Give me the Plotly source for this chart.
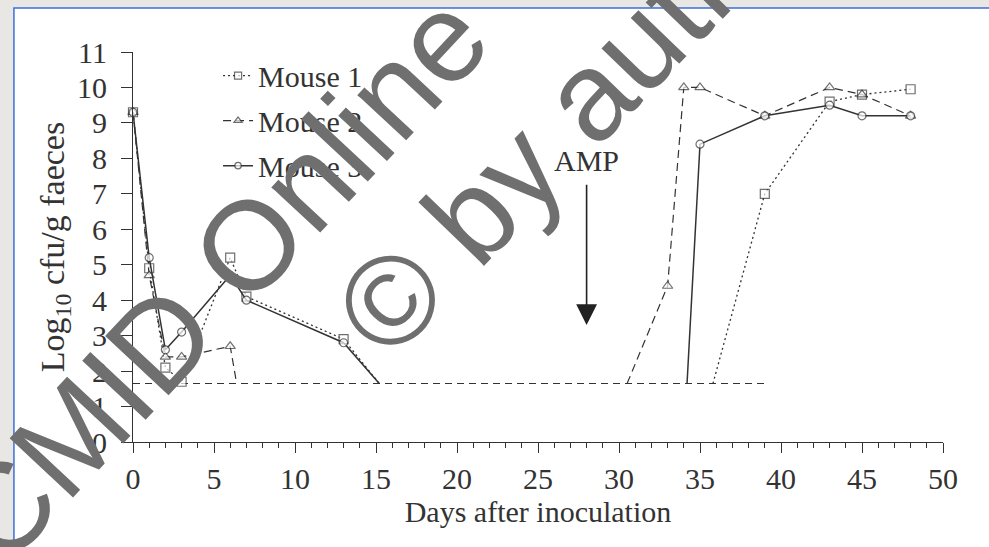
import plotly.graph_objects as go

# ---------------- data ----------------
LIMIT = 1.65  # detection limit (log10 cfu/g)

days_m1 = [0, 1, 2, 3, 6, 7, 13, 15.2, None, 35.8, 39, 43, 45, 48]
mouse1 = [9.3, 4.9, 2.1, 1.7, 5.2, 4.1, 2.9, 1.65, None, 1.65, 7.0, 9.6, 9.8, 9.95]

days_m2 = [0, 1, 2, 3, 6, 6.4, None, 30.5, 33, 34, 35, 39, 43, 45, 48]
mouse2 = [9.3, 4.7, 2.4, 2.4, 2.7, 1.65, None, 1.65, 4.4, 10.0, 10.0, 9.2, 10.0, 9.8, 9.2]

days_m3 = [0, 1, 2, 3, 6, 7, 13, 15.2, None, 34.2, 35, 39, 43, 45, 48]
mouse3 = [9.3, 5.2, 2.6, 3.1, 4.7, 4.0, 2.8, 1.65, None, 1.65, 8.4, 9.2, 9.5, 9.2, 9.2]

limit_days = [0, 39.1]
limit_vals = [LIMIT, LIMIT]

amp_day = 28
amp_from, amp_to = 7.3, 3.3
amp_label_y = 7.95

x_ticks = [0, 5, 10, 15, 20, 25, 30, 35, 40, 45, 50]
y_ticks = list(range(0, 12))

INK = "#333333"
SERIF = "Liberation Serif"
FS = 30


def sizes(vals, s):
    return [0 if (v is None or v == LIMIT) else s for v in vals]


fig = go.Figure()

fig.add_trace(go.Scatter(
    x=limit_days, y=limit_vals, mode="lines", showlegend=False,
    line=dict(color=INK, width=1.2, dash="7px,5px"), hoverinfo="skip"))

fig.add_trace(go.Scatter(
    x=days_m1, y=mouse1, mode="lines+markers", name="Mouse 1", legendgroup="1",
    line=dict(color=INK, width=1.3, dash="2px,3px"),
    marker=dict(symbol="square", size=sizes(mouse1, 9), color="white",
                line=dict(color=INK, width=1.2)),
    cliponaxis=False))

fig.add_trace(go.Scatter(
    x=days_m2, y=mouse2, mode="lines+markers", name="Mouse 2", legendgroup="2",
    line=dict(color=INK, width=1.2, dash="8px,5px"),
    marker=dict(symbol="triangle-up", size=sizes(mouse2, 9), color="white",
                line=dict(color=INK, width=1.2)),
    cliponaxis=False))

fig.add_trace(go.Scatter(
    x=days_m3, y=mouse3, mode="lines+markers", name="Mouse 3", legendgroup="3",
    line=dict(color=INK, width=1.5),
    marker=dict(symbol="circle", size=sizes(mouse3, 8), color="white",
                line=dict(color=INK, width=1.2)),
    cliponaxis=False))

# AMP arrow and label
fig.add_annotation(x=amp_day, y=amp_to, ax=amp_day, ay=amp_from, axref="x", ayref="y",
                   xref="x", yref="y", text="", showarrow=True,
                   arrowhead=2, arrowsize=2.6, arrowwidth=1.6, arrowcolor="#222")
fig.add_annotation(x=amp_day, y=amp_label_y, xref="x", yref="y", text="AMP", showarrow=False,
                   xanchor="center", yanchor="middle",
                   font=dict(family=SERIF, size=FS, color=INK))

# watermark (overlaid text of the source image)
fig.add_annotation(x=5.25, y=4.6, xref="x", yref="y", text="CMID Online",
                   showarrow=False, textangle=-47, xanchor="center", yanchor="middle",
                   font=dict(family="Liberation Sans", size=126, color="#6f6f6f"))
fig.add_annotation(x=27.9, y=9.7, xref="x", yref="y", text="© by author",
                   showarrow=False, textangle=-46, xanchor="center", yanchor="middle",
                   font=dict(family="Liberation Sans", size=126, color="#6f6f6f"))

# page frame
fig.add_shape(type="rect", xref="paper", yref="paper",
              x0=-0.147, x1=1.064, y0=-0.303, y1=1.113,
              fillcolor="white", line=dict(color="#3c6fd9", width=1.5), layer="below")

fig.update_layout(
    width=989, height=547,
    margin=dict(l=133, r=46, t=52, b=105, autoexpand=False),
    paper_bgcolor="#e9e7e3", plot_bgcolor="white",
    font=dict(family=SERIF, size=FS, color=INK),
    legend=dict(x=0.105, y=1.006, xanchor="left", yanchor="top",
                bgcolor="rgba(0,0,0,0)", font=dict(family=SERIF, size=FS, color=INK),
                tracegroupgap=3, traceorder="grouped"),
    xaxis=dict(range=[0, 50], tickmode="array", tickvals=x_ticks,
               ticks="outside", ticklen=10, tickwidth=1.2, tickcolor=INK,
               showline=True, linecolor=INK, linewidth=1.2,
               showgrid=False, zeroline=False,
               minor=dict(dtick=1, ticks="outside", ticklen=5, tickwidth=1, tickcolor=INK,
                          showgrid=False),
               tickfont=dict(family=SERIF, size=FS, color=INK),
               title=dict(text="Days after inoculation", standoff=4,
                          font=dict(family=SERIF, size=FS, color=INK))),
    yaxis=dict(range=[0, 11], tickmode="array", tickvals=y_ticks,
               ticks="outside", ticklen=11, tickwidth=1.2, tickcolor=INK,
               showline=True, linecolor=INK, linewidth=1.2,
               showgrid=False, zeroline=False, ticklabelstandoff=8,
               tickfont=dict(family=SERIF, size=FS, color=INK),
               title=dict(text="Log<sub>10</sub> cfu/g faeces", standoff=2,
                          font=dict(family=SERIF, size=34, color=INK))),
)

fig.write_html("out.html", config={"displayModeBar": False},
               post_script="document.body.style.margin='0px';document.body.style.overflow='hidden';")
